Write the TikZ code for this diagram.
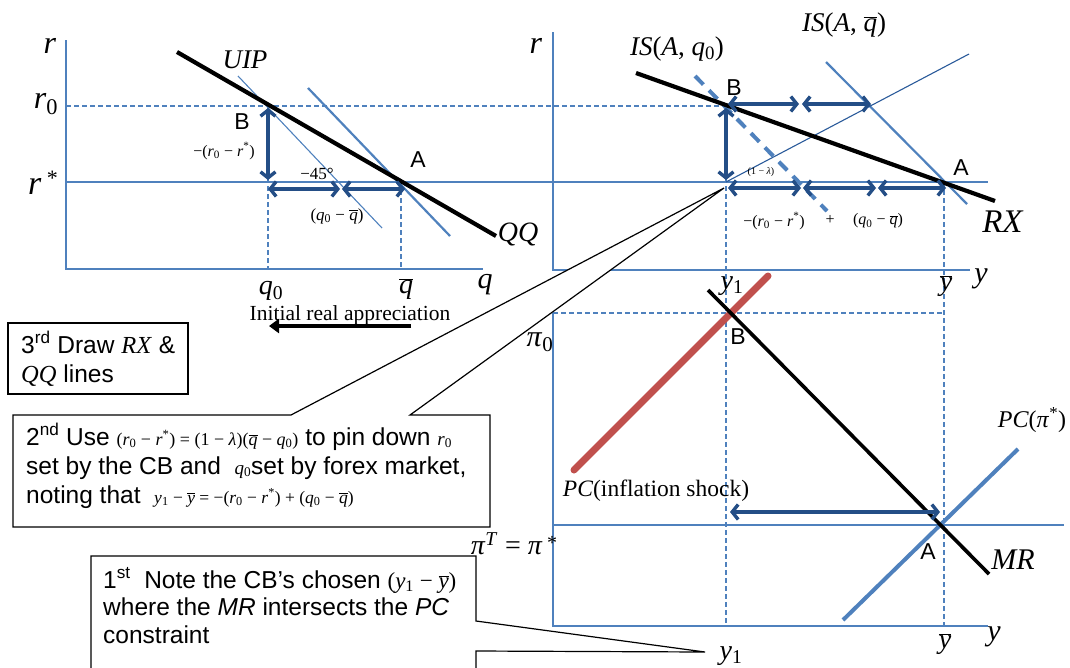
\documentclass[tikz,border=0pt]{standalone}
\usepackage{fontspec}
\setmainfont{Liberation Sans}
\newfontfamily\tnr{Liberation Serif}
\usetikzlibrary{arrows.meta}
\definecolor{axisblue}{HTML}{4F81BD}
\definecolor{darkarrow}{HTML}{244E86}
\definecolor{thinblue}{HTML}{2A5A9A}
\definecolor{pcred}{HTML}{C0504D}
\newcommand{\obar}[1]{\ensuremath{\overline{\hbox{\textit{#1}}}}}
\newcommand{\fs}[1]{\fontsize{#1}{#1}\selectfont}
\begin{document}
\begin{tikzpicture}[x=1pt,y=-1pt,
  axis/.style={draw=axisblue,line width=1.8pt},
  dashline/.style={draw=axisblue,line width=1.8pt,dash pattern=on 5pt off 3pt},
  blk/.style={draw=black,line width=4.2pt},
  arr/.style={draw=darkarrow,line width=3.4pt,{Straight Barb[length=6pt,width=15pt]}-{Straight Barb[length=6pt,width=15pt]}},
  lab/.style={inner sep=0pt,font=\tnr\fs{28}},
  small/.style={inner sep=0pt,font=\tnr\fs{16}},
  pt/.style={inner sep=0pt,font=\fs{23}},
  callout/.style={draw=black,line width=1.2pt,fill=white},
  boxtxt/.style={inner sep=0pt,anchor=base west,font=\fs{24.5}}]
\useasboundingbox (0,0) rectangle (1070,667);
\clip (0,0) rectangle (1070,667);
% ---------- coordinates ----------
\coordinate (LrTop) at (66,40);
\coordinate (LO) at (66,269);
\coordinate (LqEnd) at (483,269);
\coordinate (Lr0) at (66,106);
\coordinate (Lrs) at (66,182);
\coordinate (RrsEnd) at (988,182);
\coordinate (B1) at (268,106);
\coordinate (A1) at (401,182);
\coordinate (q0b) at (268,269);
\coordinate (qbb) at (401,269);
\coordinate (B2) at (726,106);
\coordinate (A2) at (944,182);
\coordinate (Y1r) at (726,182);
\coordinate (Rtop) at (553,32);
\coordinate (RO) at (553,270);
\coordinate (RyEnd) at (970,270);
\coordinate (Ptop) at (553,313);
\coordinate (PO) at (553,626);
\coordinate (PyEnd) at (988,626);
\coordinate (Ybarpi0) at (944,313);
\coordinate (y1bot) at (726,626);
\coordinate (ybarbot) at (944,626);
\coordinate (PiT) at (553,525);
\coordinate (PiTEnd) at (1064,525);
% ---------- axes and guide lines ----------
\draw[axis] (LrTop) -- (LO) -- (LqEnd);
\draw[axis] (Lrs) -- (RrsEnd);
\draw[dashline] (Lr0) -- (B2);
\draw[dashline] (B1) -- (q0b);
\draw[dashline] (A1) -- (qbb);
\draw[axis] (Rtop) -- (RO) -- (RyEnd);
\draw[dashline] (B2) -- (y1bot);
\draw[dashline] (A2) -- (ybarbot);
\draw[axis] (Ptop) -- (PO) -- (PyEnd);
\draw[dashline] (Ptop) -- (Ybarpi0);
\draw[axis] (PiT) -- (PiTEnd);
% ---------- top-left curves ----------
\coordinate (QQs) at (177,52); \coordinate (QQe) at (496,236);
\coordinate (T45s) at (238,76); \coordinate (T45e) at (382,228);
\coordinate (K45s) at (308,88); \coordinate (K45e) at (450,236);
\draw[axisblue,line width=1.1pt] (T45s) -- (T45e);
\draw[axisblue,line width=2.2pt] (K45s) -- (K45e);
\draw[blk] (QQs) -- (QQe);
% arrows top-left
\coordinate (vl1) at (268,108); \coordinate (vl2) at (268,180);
\coordinate (hl1) at (268,189); \coordinate (hl2) at (340,189); \coordinate (hl3) at (342,189); \coordinate (hl4) at (405,189);
\draw[arr] (vl1) -- (vl2);
\draw[arr] (hl1) -- (hl2);
\draw[arr] (hl3) -- (hl4);
% ---------- top-right curves ----------
\coordinate (RXs) at (636,73); \coordinate (RXe) at (995,201);
\coordinate (ISq0s) at (695,76); \coordinate (ISq0e) at (827,211);
\coordinate (ISbs) at (826,62); \coordinate (ISbe) at (967,204);
\coordinate (THe) at (969,54);
\draw[axisblue,line width=2.2pt] (ISbs) -- (ISbe);
\draw[thinblue,line width=1.1pt] (Y1r) -- (THe);
\draw[axisblue,line width=4pt,dash pattern=on 12pt off 8pt] (ISq0s) -- (ISq0e);
\draw[blk] (RXs) -- (RXe);
\coordinate (vr1) at (726,108); \coordinate (vr2) at (726,180);
\coordinate (hu1) at (728,104); \coordinate (hu2) at (799,104); \coordinate (hu3) at (802,104); \coordinate (hu4) at (871,104);
\coordinate (hd1) at (728,188); \coordinate (hd2) at (801,188); \coordinate (hd3) at (803,188); \coordinate (hd4) at (876,188);
\coordinate (hd5) at (878,188); \coordinate (hd6) at (946,188);
\draw[arr] (vr1) -- (vr2);
\draw[arr] (hu1) -- (hu2);
\draw[arr] (hu3) -- (hu4);
\draw[arr] (hd1) -- (hd2);
\draw[arr] (hd3) -- (hd4);
\draw[arr] (hd5) -- (hd6);
% ---------- lower panel ----------
\coordinate (PCs) at (574,470); \coordinate (PCe) at (768,276);
\coordinate (MRs) at (708,290); \coordinate (MRe) at (989,574);
\coordinate (PCSs) at (843,620); \coordinate (PCSe) at (1018,449);
\draw[pcred,line width=7pt,line cap=round] (PCs) -- (PCe);
\draw[axisblue,line width=4pt] (PCSs) -- (PCSe);
\draw[draw=black,line width=3.6pt] (MRs) -- (MRe);
\coordinate (la1) at (730,512); \coordinate (la2) at (940,512);
\draw[arr] (la1) -- (la2);
% ---------- initial appreciation arrow ----------
\node[inner sep=0pt,font=\tnr\fs{21.5}] (initlab) at (350,315) {Initial real appreciation};
\coordinate (ia1) at (411,326); \coordinate (ia2) at (269,326);
\draw[black,line width=3.5pt,-{Triangle[length=10pt,width=14pt]}] (ia1) -- (ia2);
% ---------- labels top-left ----------
\node[lab,font=\tnr\fs{32}] (rL) at (50,46) {\textit{r}};
\node[lab,font=\tnr\fs{32}] (r0L) at (46,104) {\textit{r}\textsubscript{0}};
\node[lab,font=\tnr\fs{34}] (rsL) at (43,183) {\textit{r}\,\raisebox{9pt}{\fs{22}*}};
\node[lab,font=\tnr\fs{27}] (uip) at (245,60) {\textit{UIP}};
\node[lab] (qq) at (518,234) {\textit{QQ}};
\node[pt] (Bl1) at (242,122) {B};
\node[pt] (Al1) at (418,160) {A};
\node[small] (rr1) at (224,151) {−(\textit{r}\textsubscript{0} − \textit{r}\textsuperscript{*})};
\node[small,font=\tnr\fs{17}] (deg) at (317,174) {−45°};
\node[small,font=\tnr\fs{17}] (qq1) at (337,216) {(\textit{q}\textsubscript{0} − \obar{q})};
\node[lab] (q0l) at (271,291) {\textit{q}\textsubscript{0}};
\node[lab] (qbl) at (406,289) {\obar{q}};
\node[lab,font=\tnr\fs{30}] (ql) at (485,285) {\textit{q}};
% ---------- labels top-right ----------
\node[lab,font=\tnr\fs{32}] (rR) at (536,46) {\textit{r}};
\node[lab,font=\tnr\fs{27}] (isq0) at (677,49) {\textit{IS}(\textit{A}, \textit{q}\textsubscript{0})};
\node[lab,font=\tnr\fs{27}] (isqb) at (844,25) {\textit{IS}(\textit{A}, \obar{q})};
\node[pt] (Bl2) at (734,88) {B};
\node[pt] (Al2) at (961,168) {A};
\node[inner sep=0pt,font=\tnr\fs{10}] (lam) at (761,172) {(1 − \textit{λ})};
\node[small] (rr2) at (774,221) {−(\textit{r}\textsubscript{0} − \textit{r}\textsuperscript{*})};
\node[small] (plus) at (830,220) {+};
\node[small] (qq2) at (878,221) {(\textit{q}\textsubscript{0} − \obar{q})};
\node[lab,font=\tnr\fs{33}] (rx) at (1003,222) {\textit{RX}};
\node[lab] (y1t) at (732,286) {\textit{y}\textsubscript{1}};
\node[lab] (ybt) at (946,286) {\obar{y}};
\node[lab,font=\tnr\fs{30}] (yt) at (981,279) {\textit{y}};
% ---------- labels lower ----------
\node[lab,font=\tnr\fs{30}] (pi0) at (540,342) {\textit{π}\textsubscript{0}};
\node[pt] (Bl3) at (738,337) {B};
\node[pt] (Al3) at (928,552) {A};
\node[lab,font=\tnr\fs{24}] (pcs) at (1032,420) {\textit{PC}(\textit{π}\textsuperscript{*})};
\node[inner sep=0pt,font=\tnr\fs{23.5}] (pci) at (656,491) {\textit{PC}(inflation shock)};
\node[lab,font=\tnr\fs{30}] (mr) at (1013,560) {\textit{MR}};
\node[lab] (piT) at (514,544) {\textit{π}\textsuperscript{\textit{T}} = \textit{π}\,\raisebox{5pt}{\fs{20}*}};
\node[lab] (y1b) at (731,656) {\textit{y}\textsubscript{1}};
\node[lab] (ybb) at (945,644) {\obar{y}};
\node[lab,font=\tnr\fs{30}] (yb) at (994,637) {\textit{y}};
% ---------- callouts ----------
\coordinate (tip2) at (724,188);
\coordinate (tip1) at (705,652);
\draw[callout] (8,323) rectangle (188,394);
\node[boxtxt] (t3a) at (21,353) {3\textsuperscript{rd} Draw {\tnr\textit{RX}} \&};
\node[boxtxt] (t3b) at (21,382) {{\tnr\textit{QQ}} lines};
\draw[callout] (13,415) -- (291,415) -- (tip2) -- (410,415) -- (490,415) -- (490,527) -- (13,527) -- cycle;
\node[boxtxt] (t2a) at (26,445) {2\textsuperscript{nd} Use {\tnr\fs{18}(\textit{r}\textsubscript{0} − \textit{r}\textsuperscript{*}) = (1 − \textit{λ})(\obar{q} − \textit{q}\textsubscript{0})} to pin down {\tnr\fs{19}\textit{r}\textsubscript{0}}};
\node[boxtxt] (t2b) at (26,474) {set by the CB and \ {\tnr\fs{19}\textit{q}\textsubscript{0}}set by forex market,};
\node[boxtxt] (t2c) at (26,503) {noting that \ {\tnr\fs{17.5}\textit{y}\textsubscript{1} − \obar{y} = −(\textit{r}\textsubscript{0} − \textit{r}\textsuperscript{*}) + (\textit{q}\textsubscript{0} − \obar{q})}};
\draw[callout] (91,556) -- (476,556) -- (476,621) -- (tip1) -- (476,651) -- (476,690) -- (91,690) -- cycle;
\node[boxtxt] (t1a) at (103,588) {1\textsuperscript{st}\ \ Note the CB’s chosen {\tnr\fs{23}(\textit{y}\textsubscript{1} − \obar{y})}};
\node[boxtxt] (t1b) at (103,615) {where the \textit{MR} intersects the \textit{PC}};
\node[boxtxt] (t1c) at (103,643) {constraint};
\end{tikzpicture}
\end{document}
